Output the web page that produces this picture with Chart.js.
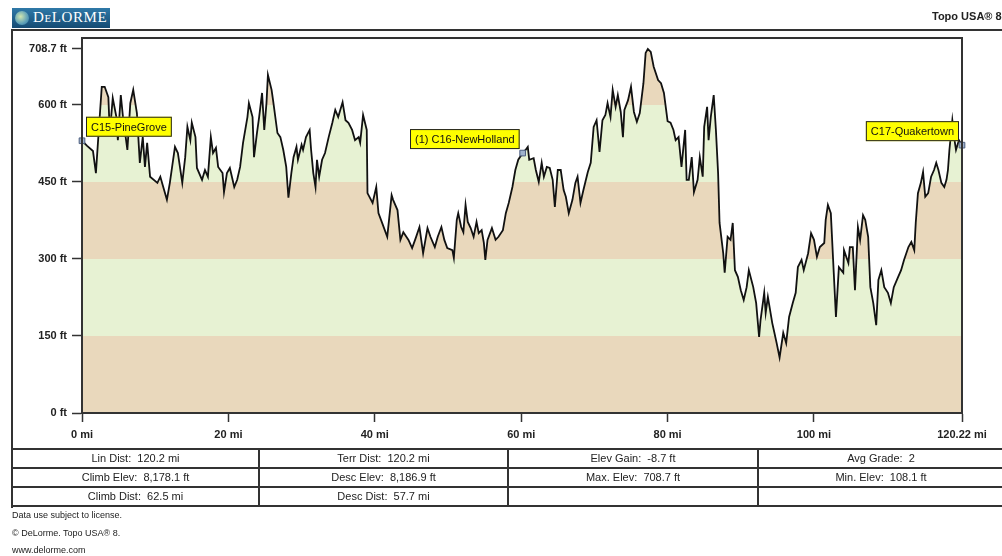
<!DOCTYPE html>
<html>
<head>
<meta charset="utf-8">
<title>Elevation profile</title>
<script src="https://cdn.jsdelivr.net/npm/chart.js@4.4.1/dist/chart.umd.min.js"></script>
<style>
  html, body { margin: 0; padding: 0; background: #fff; }
  body { width: 1002px; height: 556px; position: relative; overflow: hidden; font-family: "Liberation Sans", Arial, sans-serif; color: #222; }
  #chart { position: absolute; left: 0; top: 0; }
  .line { position: absolute; background: #333; }
  #logo { position: absolute; left: 12px; top: 8px; width: 98px; height: 20px; background: linear-gradient(#2f79a8, #154b73); }
  #globe { position: absolute; left: 3px; top: 3px; width: 14px; height: 14px; border-radius: 50%; background: radial-gradient(circle at 40% 40%, #cfe6b0, #5c9fb8 60%, #2f6f96); }
  #logo span { position: absolute; left: 21px; top: 1px; color: #fff; font-family: "Liberation Serif", "DejaVu Serif", serif; font-size: 15px; font-variant: small-caps; letter-spacing: 0.6px; }
  #brand { position: absolute; left: 932px; top: 10px; font-size: 11px; font-weight: bold; white-space: nowrap; }
  .cell { position: absolute; height: 19px; line-height: 19px; font-size: 11px; text-align: center; white-space: pre; }
  .foot { position: absolute; left: 12px; font-size: 9px; white-space: nowrap; }
</style>
</head>
<body>
<canvas id="chart" width="1002" height="556"></canvas>

<div id="logo"><div id="globe"></div><span>DeLORME</span></div>
<div id="brand">Topo USA® 8</div>
<div class="line" style="left:11px; top:29px; width:1000px; height:2px;"></div>
<div class="line" style="left:11px; top:29px; width:2px; height:479px;"></div>
<div id="stats"></div>
<div class="foot" style="top:510px;">Data use subject to license.</div>
<div class="foot" style="top:528px;">© DeLorme. Topo USA® 8.</div>
<div class="foot" style="top:545px;">www.delorme.com</div>

<script>
// profile: distance (mi) and elevation (ft)
const profileMi = [
  0.0, 0.7, 1.5, 1.9, 2.2, 2.7, 3.1, 3.6, 3.8, 4.2, 4.7, 4.9, 5.3, 5.6, 6.2, 6.6, 7.0, 7.5, 7.9, 8.3,
  8.6, 8.9, 9.3, 10.3, 10.7, 11.1, 11.6, 12.0, 12.7, 13.1, 13.7, 14.1, 14.4, 14.8, 15.0, 15.5, 15.7, 16.4, 16.8, 17.2,
  17.6, 17.9, 18.3, 18.6, 19.2, 19.4, 19.8, 20.2, 20.8, 21.2, 21.6, 22.0, 22.6, 22.8, 23.3, 23.5, 23.9, 24.2, 24.6, 24.9,
  25.2, 25.4, 25.9, 26.1, 26.7, 27.1, 27.5, 27.9, 28.2, 28.6, 28.9, 29.3, 29.5, 30.0, 30.2, 30.6, 31.1, 31.3, 31.6, 31.9,
  32.1, 32.4, 32.8, 33.2, 33.7, 34.2, 34.6, 35.0, 35.6, 36.0, 36.4, 36.9, 37.3, 37.8, 38.0, 38.4, 38.9, 39.0, 39.7, 40.2,
  40.5, 41.0, 41.7, 42.3, 42.5, 43.1, 43.5, 43.9, 44.6, 45.1, 45.6, 46.1, 46.6, 47.2, 47.6, 48.2, 48.6, 49.1, 49.5, 49.9,
  50.6, 50.8, 51.2, 51.4, 51.8, 52.1, 52.4, 52.7, 53.1, 53.5, 53.9, 54.2, 54.6, 54.9, 55.1, 55.4, 56.0, 56.5, 56.9, 57.5,
  57.9, 58.3, 58.8, 59.2, 59.6, 60.2, 60.6, 60.9, 61.1, 61.7, 62.0, 62.4, 62.8, 63.1, 63.5, 63.9, 64.3, 64.6, 65.0, 65.4,
  65.8, 66.1, 66.5, 67.0, 67.4, 67.7, 68.1, 68.5, 69.1, 69.5, 69.9, 70.3, 70.7, 71.1, 71.5, 71.8, 72.2, 72.5, 72.9, 73.2,
  73.6, 73.9, 74.1, 74.6, 75.0, 75.4, 75.8, 76.2, 76.7, 77.0, 77.3, 77.7, 78.1, 78.7, 79.1, 79.5, 79.8, 80.0, 80.4, 80.8,
  81.1, 81.5, 81.9, 82.4, 82.6, 82.9, 83.3, 83.6, 84.1, 84.4, 84.8, 85.0, 85.4, 85.6, 85.9, 86.3, 86.6, 86.9, 87.1, 87.6,
  87.8, 88.2, 88.6, 88.9, 89.2, 89.6, 90.0, 90.4, 90.8, 91.1, 91.7, 92.1, 92.5, 92.7, 93.2, 93.4, 93.7, 94.3, 94.5, 94.9,
  95.3, 95.8, 96.2, 96.6, 97.1, 97.5, 97.8, 98.3, 98.6, 99.2, 99.6, 100.0, 100.4, 100.8, 101.4, 101.6, 101.9, 102.3, 102.7, 103.0,
  103.4, 104.0, 104.1, 104.7, 104.9, 105.3, 105.6, 106.0, 106.3, 106.7, 107.0, 107.4, 107.7, 108.1, 108.5, 108.8, 109.2, 109.6, 110.1, 110.5,
  110.9, 111.5, 111.9, 112.3, 112.9, 113.3, 113.7, 113.9, 114.2, 114.6, 114.9, 115.2, 115.6, 116.0, 116.4, 116.7, 117.0, 117.4, 117.8, 118.1,
  118.3, 118.5, 118.9, 119.2, 119.4, 119.8, 120.22
];
const profileFt = [
  530, 520, 510, 467, 531, 635, 635, 615, 545, 613, 576, 531, 619, 576, 512, 603, 629, 584, 487, 537,
  479, 526, 460, 448, 460, 440, 415, 448, 518, 506, 448, 498, 557, 531, 565, 537, 477, 454, 473, 460,
  537, 506, 516, 479, 467, 430, 467, 477, 440, 454, 479, 526, 576, 603, 576, 498, 545, 576, 623, 551,
  603, 658, 629, 609, 545, 537, 512, 479, 419, 467, 498, 518, 493, 522, 512, 537, 551, 512, 467, 440,
  493, 460, 493, 506, 537, 565, 590, 576, 605, 570, 565, 551, 531, 537, 526, 580, 551, 428, 409, 440,
  389, 370, 343, 424, 415, 395, 337, 352, 337, 321, 341, 362, 311, 360, 343, 323, 343, 362, 337, 321,
  317, 302, 376, 389, 362, 352, 405, 372, 360, 343, 372, 350, 356, 331, 298, 337, 360, 337, 343, 356,
  389, 409, 440, 473, 493, 506, 512, 518, 493, 496, 473, 450, 487, 460, 479, 477, 454, 401, 473, 473,
  434, 421, 389, 415, 448, 460, 409, 434, 469, 487, 557, 570, 508, 570, 580, 603, 576, 629, 596, 619,
  586, 537, 590, 609, 635, 586, 567, 584, 642, 701, 708.7, 703, 674, 648, 642, 623, 590, 568, 565, 551,
  531, 537, 479, 551, 454, 454, 498, 430, 454, 498, 460, 557, 596, 531, 576, 619, 551, 467, 370, 311,
  273, 343, 337, 370, 278, 265, 239, 220, 245, 278, 245, 214, 148, 181, 234, 195, 226, 175, 162, 136,
  108.1, 156, 136, 187, 214, 234, 284, 298, 278, 311, 350, 337, 304, 323, 331, 376, 405, 389, 273, 187,
  284, 273, 317, 292, 323, 323, 239, 362, 337, 385, 376, 343, 245, 214, 171, 259, 278, 245, 234, 214,
  245, 265, 278, 298, 323, 333, 317, 370, 428, 448, 469, 421, 428, 460, 473, 487, 473, 448, 440, 454,
  473, 512, 570, 531, 512, 531, 521.4
];

const xTicks = [0, 20, 40, 60, 80, 100, 120.22];
const yTicks = [0, 150, 300, 450, 600, 708.7];
const bandEdges = [0, 150, 300, 450, 600, 730];

const wpNames = ['C15-PineGrove', '(1) C16-NewHolland', 'C17-Quakertown'];
const wpMi = [0, 60.2, 120.22];
const wpFt = [530, 506, 521.4];

const statRows = [
  ['Lin Dist:  120.2 mi', 'Terr Dist:  120.2 mi', 'Elev Gain:  -8.7 ft', 'Avg Grade:  2'],
  ['Climb Elev:  8,178.1 ft', 'Desc Elev:  8,186.9 ft', 'Max. Elev:  708.7 ft', 'Min. Elev:  108.1 ft'],
  ['Climb Dist:  62.5 mi', 'Desc Dist:  57.7 mi', '', '']
];

// stats grid under the chart
const colX = [12, 259, 508, 758, 1010];
const rowY = [449, 468, 487, 506];
const stats = document.getElementById('stats');
function addLine(l, t, w, h) {
  const d = document.createElement('div');
  d.className = 'line';
  d.style.cssText = `left:${l}px; top:${t}px; width:${w}px; height:${h}px;`;
  stats.appendChild(d);
}
rowY.forEach(y => addLine(11, y - 1, 1000, 2));
colX.slice(0, 4).forEach(x => addLine(x - 1, rowY[0] - 1, 2, rowY[3] - rowY[0] + 2));
statRows.forEach((row, r) => {
  row.forEach((txt, c) => {
    const d = document.createElement('div');
    d.className = 'cell';
    d.style.left = colX[c] + 'px';
    d.style.top = rowY[r] + 'px';
    d.style.width = (c === 3 ? 246 : colX[c + 1] - colX[c]) + 'px';
    d.textContent = txt;
    stats.appendChild(d);
  });
});

const tan = '#e9d8bc';
const green = '#e7f2d3';
const axisFont = { family: '"Liberation Sans", Arial, sans-serif', size: 11, weight: 'bold' };

// elevation bands under the curve, built from the y scale
function bandFill(context) {
  const chart = context.chart;
  const { ctx, chartArea, scales } = chart;
  if (!chartArea) return null;
  const y = scales.y;
  const y0 = y.getPixelForValue(bandEdges[0]);
  const y1 = y.getPixelForValue(bandEdges[bandEdges.length - 1]);
  const g = ctx.createLinearGradient(0, y0, 0, y1);
  const span = bandEdges[bandEdges.length - 1] - bandEdges[0];
  for (let i = 0; i < bandEdges.length - 1; i++) {
    const c = i % 2 === 0 ? tan : green;
    g.addColorStop((bandEdges[i] - bandEdges[0]) / span, c);
    g.addColorStop((bandEdges[i + 1] - bandEdges[0]) / span - 0.0001, c);
  }
  return g;
}

const framePlugin = {
  id: 'frame',
  afterDatasetsDraw(chart) {
    const { ctx, chartArea } = chart;
    ctx.save();
    ctx.strokeStyle = '#333';
    ctx.lineWidth = 2;
    ctx.strokeRect(chartArea.left, chartArea.top, chartArea.right - chartArea.left, chartArea.bottom - chartArea.top);
    ctx.restore();
  }
};

// yellow waypoint labels next to the markers
const wpSide = ['right', 'left', 'left'];
const wpLabels = {
  id: 'wpLabels',
  afterDraw(chart) {
    const { ctx, scales } = chart;
    ctx.save();
    ctx.font = '11px "Liberation Sans", Arial, sans-serif';
    ctx.textBaseline = 'middle';
    wpNames.forEach((name, i) => {
      const px = scales.x.getPixelForValue(wpMi[i]);
      const py = scales.y.getPixelForValue(wpFt[i]);
      const w = ctx.measureText(name).width + 10;
      const h = 20;
      const left = wpSide[i] === 'right' ? px + 4 : px - 3 - w;
      const top = py - 4 - h;
      ctx.fillStyle = '#ffff00';
      ctx.fillRect(left, top, w, h);
      ctx.strokeStyle = '#222';
      ctx.lineWidth = 1;
      ctx.strokeRect(left + 0.5, top + 0.5, w - 1, h - 1);
      ctx.fillStyle = '#111';
      ctx.fillText(name, left + 5, top + h / 2 + 1);
    });
    ctx.restore();
  }
};

new Chart(document.getElementById('chart'), {
  type: 'line',
  data: {
    datasets: [
      {
        data: wpMi.map((m, i) => ({ x: m, y: wpFt[i] })),
        showLine: false,
        pointStyle: 'rect',
        pointRadius: 4,
        pointBackgroundColor: '#9fb2cc',
        pointBorderColor: '#4d5f80',
        pointBorderWidth: 1,
        clip: false,
        order: 0
      },
      {
        data: profileMi.map((m, i) => ({ x: m, y: profileFt[i] })),
        borderColor: '#111',
        borderWidth: 1.8,
        pointRadius: 0,
        tension: 0,
        fill: 'origin',
        backgroundColor: bandFill,
        order: 1
      }
    ]
  },
  options: {
    responsive: false,
    animation: false,
    devicePixelRatio: 1,
    layout: { padding: { left: 0, top: 38, right: 40, bottom: 113 } },
    plugins: { legend: { display: false }, tooltip: { enabled: false } },
    scales: {
      x: {
        type: 'linear',
        min: 0,
        max: 120.22,
        afterBuildTicks: s => { s.ticks = xTicks.map(v => ({ value: v })); },
        afterFit: s => { s.height = 30; },
        ticks: { callback: v => v + ' mi', font: axisFont, color: '#222', padding: 6, maxRotation: 0, autoSkip: false },
        grid: { drawOnChartArea: false, tickLength: 9, color: '#333', tickWidth: 1.5 },
        border: { color: '#333', width: 2 }
      },
      y: {
        min: 0,
        max: 730,
        afterBuildTicks: s => { s.ticks = yTicks.map(v => ({ value: v })); },
        afterFit: s => { s.width = 82; },
        ticks: { callback: v => v + ' ft', font: axisFont, color: '#222', padding: 5, autoSkip: false },
        grid: { drawOnChartArea: false, tickLength: 10, color: '#333', tickWidth: 1.5 },
        border: { color: '#333', width: 2 }
      }
    }
  },
  plugins: [framePlugin, wpLabels]
});
</script>
</body>
</html>
